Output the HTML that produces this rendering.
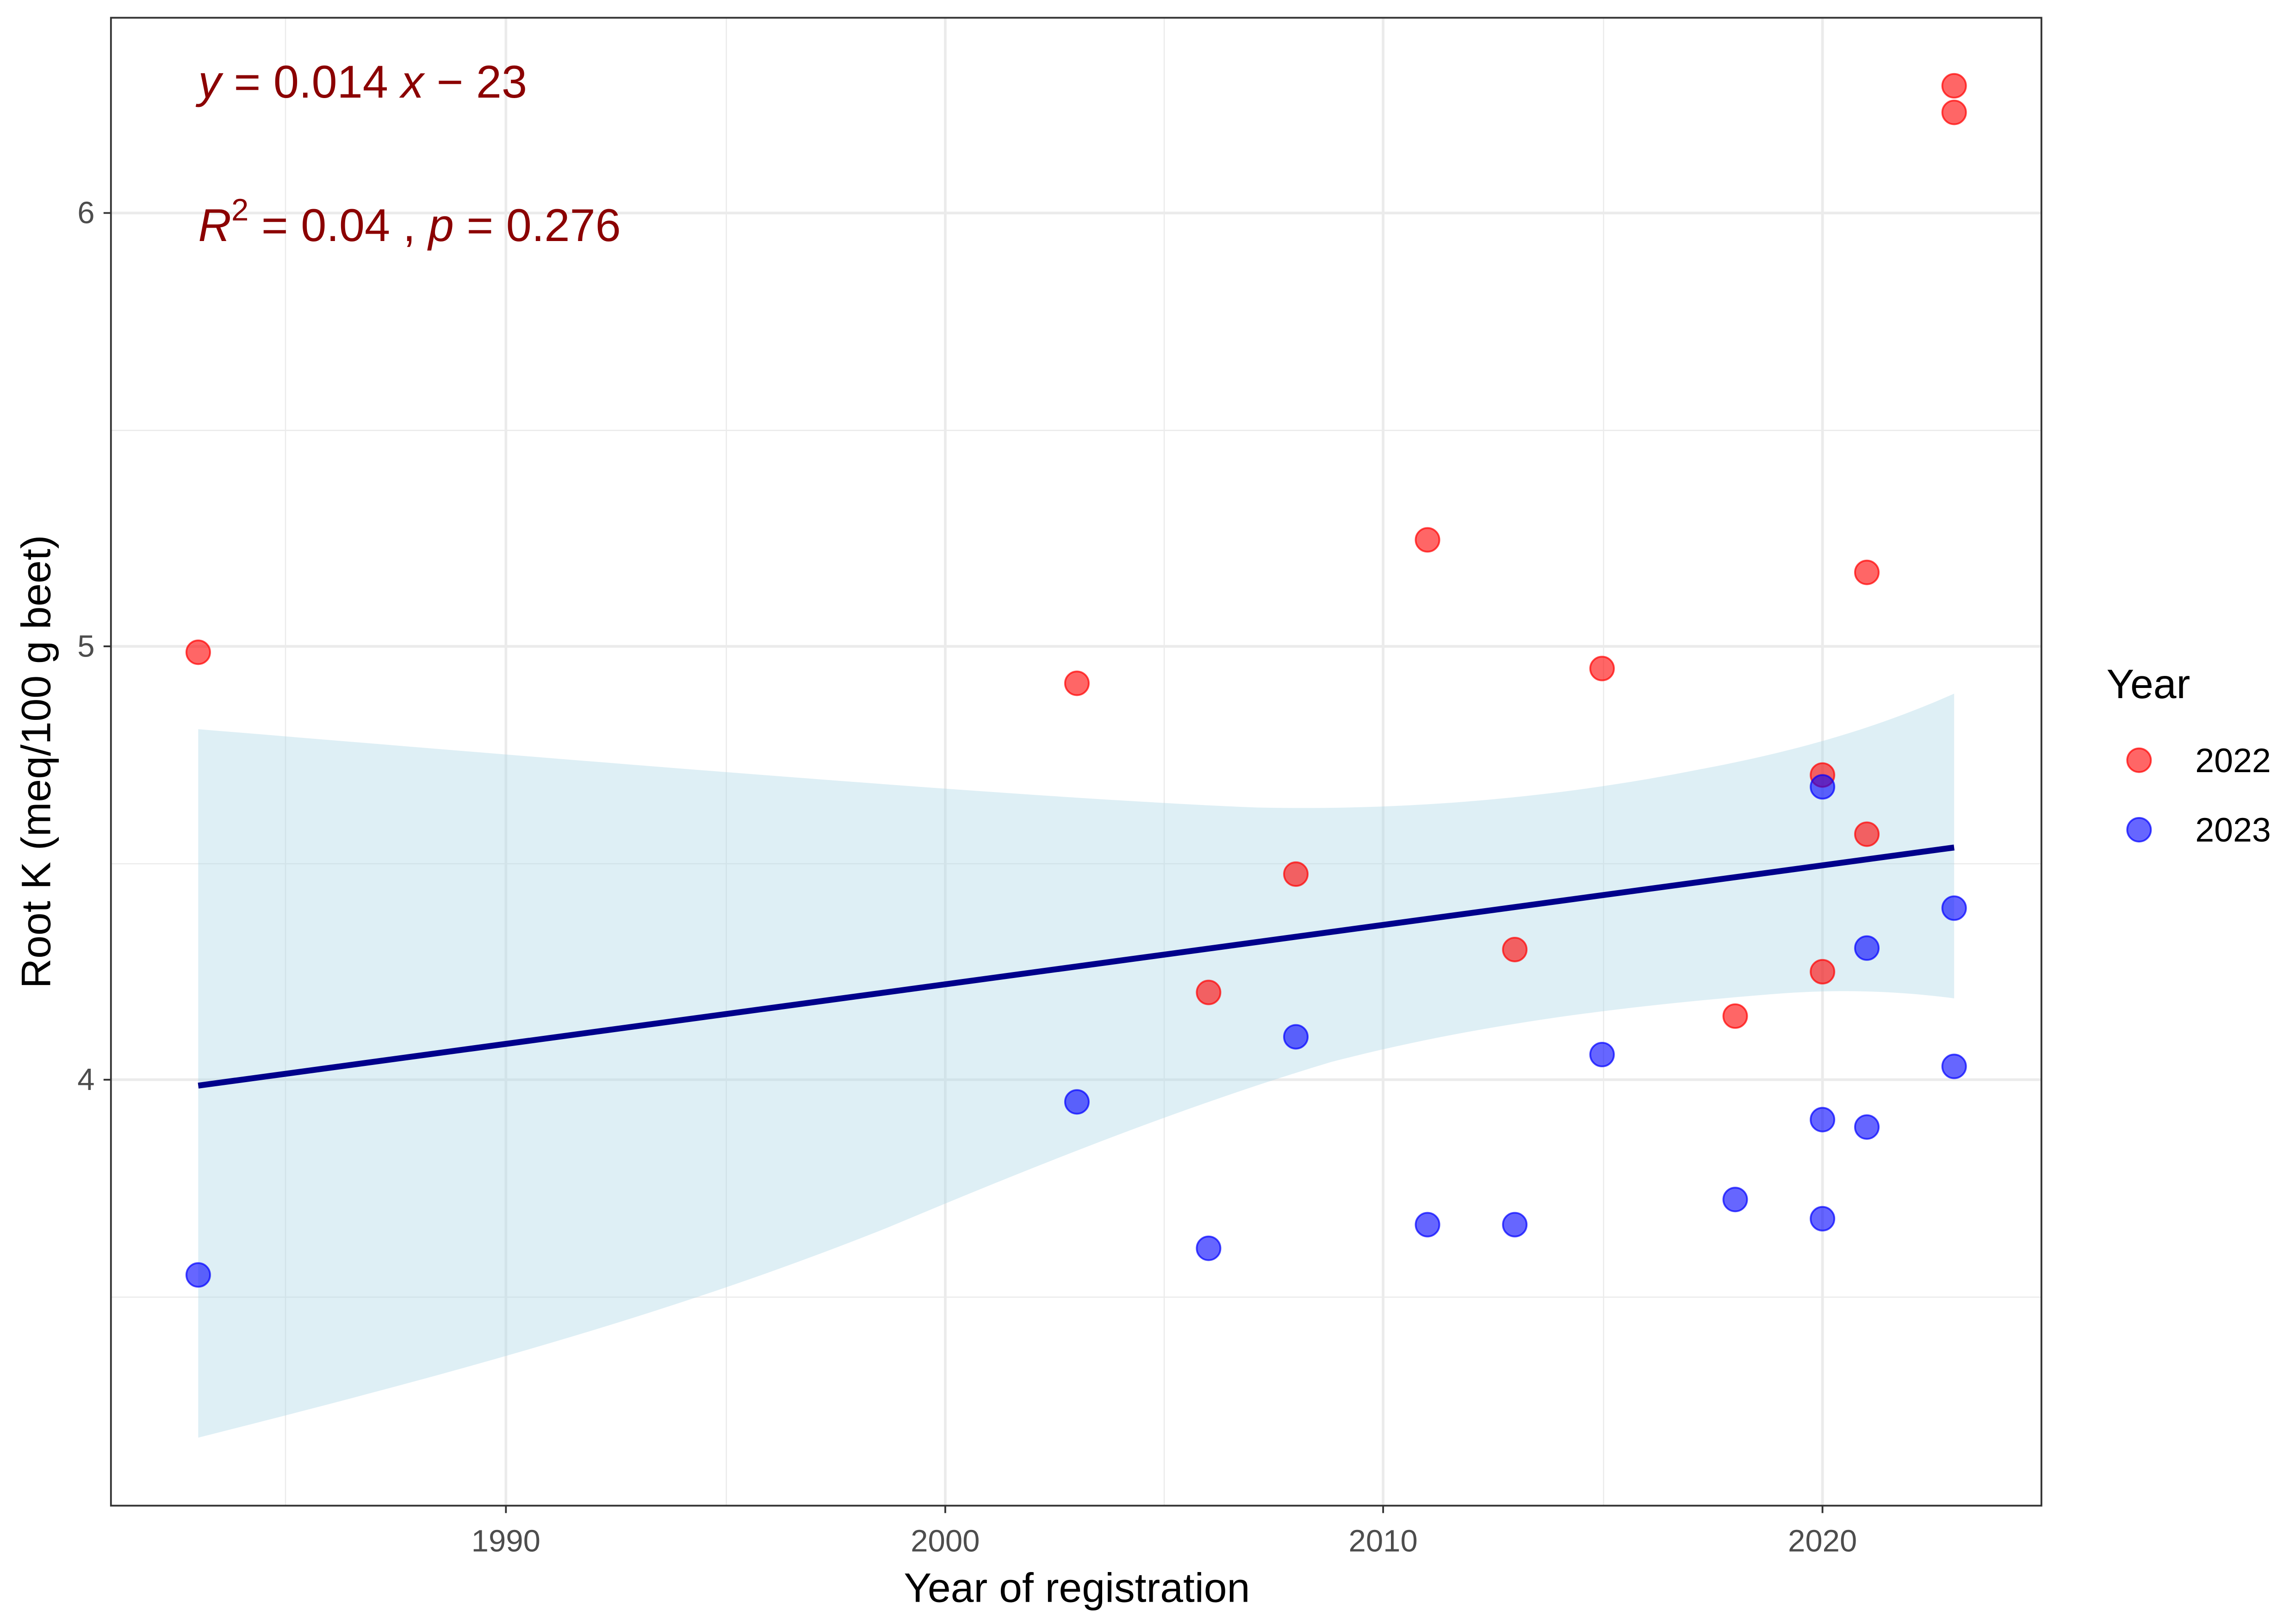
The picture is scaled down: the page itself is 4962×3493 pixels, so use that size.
<!DOCTYPE html>
<html><head><meta charset="utf-8"><style>html,body{margin:0;padding:0;background:#fff}svg{display:block}</style></head>
<body>
<svg width="4962" height="3493" viewBox="0 0 1552.1 1092.6" preserveAspectRatio="none" xmlns="http://www.w3.org/2000/svg" font-family="Liberation Sans, sans-serif">
<rect width="1552.1" height="1092.6" fill="#fff"/>
<g stroke="#ebebeb" stroke-width="0.8">
<line x1="75" x2="1380" y1="291" y2="291"/><line x1="75" x2="1380" y1="584" y2="584"/><line x1="75" x2="1380" y1="877" y2="877"/>
<line x1="193" x2="193" y1="12" y2="1018"/><line x1="491" x2="491" y1="12" y2="1018"/><line x1="787" x2="787" y1="12" y2="1018"/><line x1="1084" x2="1084" y1="12" y2="1018"/>
</g>
<g stroke="#ebebeb" stroke-width="1.8">
<line x1="75" x2="1380" y1="144" y2="144"/><line x1="75" x2="1380" y1="437" y2="437"/><line x1="75" x2="1380" y1="730" y2="730"/>
<line x1="342" x2="342" y1="12" y2="1018"/><line x1="639" x2="639" y1="12" y2="1018"/><line x1="935" x2="935" y1="12" y2="1018"/><line x1="1232" x2="1232" y1="12" y2="1018"/>
</g>
<path d="M134,493 C400,515 700,540 850,546 C950,548 1050,540 1150,520 C1230,505 1280,487 1321,469 L1321,675 C1290,671 1250,668 1200,672 C1100,680 1000,692 900,718 C800,748 700,788 600,830 C450,890 300,930 134,972 Z" fill="#add8e6" fill-opacity="0.4"/>
<line x1="134" y1="734" x2="1321" y2="573" stroke="#00008b" stroke-width="4"/>
<g fill="#ff0000" fill-opacity="0.6" stroke="#ff0000" stroke-opacity="0.7" stroke-width="1.2">
<circle cx="134" cy="441" r="8"/><circle cx="728" cy="462" r="8"/><circle cx="817" cy="671" r="8"/><circle cx="876" cy="591" r="8"/><circle cx="965" cy="365" r="8"/><circle cx="1024" cy="642" r="8"/><circle cx="1083" cy="452" r="8"/><circle cx="1173" cy="687" r="8"/><circle cx="1232" cy="524" r="8"/><circle cx="1232" cy="657" r="8"/><circle cx="1262" cy="387" r="8"/><circle cx="1262" cy="564" r="8"/><circle cx="1321" cy="58" r="8"/><circle cx="1321" cy="76" r="8"/>
</g>
<g fill="#0000ff" fill-opacity="0.6" stroke="#0000ff" stroke-opacity="0.7" stroke-width="1.2">
<circle cx="134" cy="862" r="8"/><circle cx="728" cy="745" r="8"/><circle cx="817" cy="844" r="8"/><circle cx="876" cy="701" r="8"/><circle cx="965" cy="828" r="8"/><circle cx="1024" cy="828" r="8"/><circle cx="1083" cy="713" r="8"/><circle cx="1173" cy="811" r="8"/><circle cx="1232" cy="532" r="8"/><circle cx="1232" cy="757" r="8"/><circle cx="1232" cy="824" r="8"/><circle cx="1262" cy="641" r="8"/><circle cx="1262" cy="762" r="8"/><circle cx="1321" cy="614" r="8"/><circle cx="1321" cy="721" r="8"/>
</g>
<rect x="75" y="12" width="1305" height="1006" fill="none" stroke="#333" stroke-width="1.2"/>
<g stroke="#333" stroke-width="1.2">
<line x1="70" x2="75" y1="144" y2="144"/><line x1="70" x2="75" y1="437" y2="437"/><line x1="70" x2="75" y1="730" y2="730"/>
<line x1="342" x2="342" y1="1018" y2="1023"/><line x1="639" x2="639" y1="1018" y2="1023"/><line x1="935" x2="935" y1="1018" y2="1023"/><line x1="1232" x2="1232" y1="1018" y2="1023"/>
</g>
<g fill="#4d4d4d" font-size="21" text-anchor="end">
<text x="64" y="151">6</text><text x="64" y="444">5</text><text x="64" y="737">4</text>
</g>
<g fill="#4d4d4d" font-size="21" text-anchor="middle">
<text x="342" y="1049">1990</text><text x="639" y="1049">2000</text><text x="935" y="1049">2010</text><text x="1232" y="1049">2020</text>
</g>
<text x="728" y="1083" font-size="28" text-anchor="middle" fill="#000">Year of registration</text>
<text transform="translate(34,515) rotate(-90)" font-size="28" text-anchor="middle" fill="#000">Root K (meq/100 g beet)</text>
<g fill="#8b0000" font-size="31">
<text x="134" y="66"><tspan font-style="italic">y</tspan> = 0.014 <tspan font-style="italic">x</tspan> − 23</text>
<text x="134" y="163"><tspan font-style="italic">R</tspan><tspan font-size="21" dy="-14">2</tspan><tspan dy="14"> = 0.04 , </tspan><tspan font-style="italic">p</tspan> = 0.276</text>
</g>
<text x="1424" y="472" font-size="28" fill="#000">Year</text>
<circle cx="1446" cy="514" r="8" fill="#ff0000" fill-opacity="0.6" stroke="#ff0000" stroke-opacity="0.7" stroke-width="1.2"/>
<circle cx="1446" cy="561" r="8" fill="#0000ff" fill-opacity="0.6" stroke="#0000ff" stroke-opacity="0.7" stroke-width="1.2"/>
<text x="1484" y="522" font-size="23" fill="#000">2022</text>
<text x="1484" y="569" font-size="23" fill="#000">2023</text>
</svg>
</body></html>
